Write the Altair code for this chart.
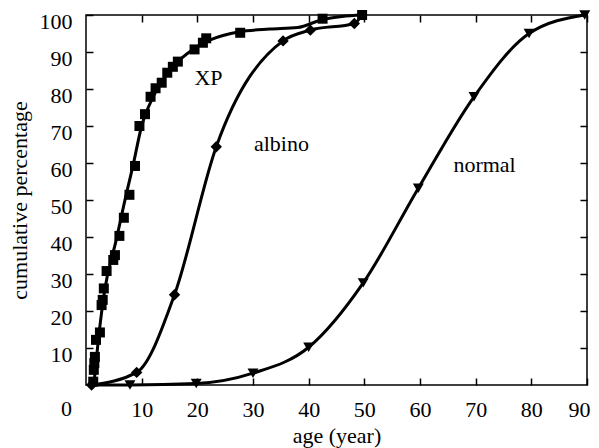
import altair as alt
import pandas as pd

# XP markers
xp_x = [1.3, 1.4, 1.5, 1.6, 1.8, 2.5, 2.8, 3.0, 3.2, 3.7, 4.9, 5.2, 6.0, 6.8, 7.8, 8.8, 9.6, 10.6,
        11.6, 12.5, 13.6, 14.6, 15.6, 16.5, 19.5, 21.0, 21.6, 27.7, 42.5, 49.6]
xp_y = [0.9, 4.1, 5.9, 7.6, 12.2, 14.2, 21.6, 23.0, 26.1, 30.8, 33.8, 35.1, 40.3, 45.2, 51.4, 59.2, 70.0, 73.2,
        77.9, 80.2, 81.7, 84.4, 86.0, 87.4, 90.7, 92.5, 93.7, 95.2, 99.0, 100.0]
# XP fitted curve
xp_curve_x = [1.4, 2.2, 3.4, 5.4, 7.3, 8.4, 10.0, 12.1, 15.6, 19.2, 22.2, 27.6, 33.0, 38.0, 42.5, 46.0, 49.6]
xp_curve_y = [0.0, 12.0, 26.0, 39.0, 52.0, 59.0, 70.0, 78.0, 86.0, 90.7, 93.2, 95.5, 96.2, 96.6, 98.8, 99.6, 100.0]

# albino
albino_x = [1.0, 9.1, 15.9, 23.4, 35.4, 40.3, 48.2]
albino_y = [0.0, 3.4, 24.4, 64.4, 93.0, 95.9, 97.7]
albino_curve_x = [1.0, 9.1, 15.9, 23.4, 35.4, 40.3, 48.2, 49.6]
albino_curve_y = [0.0, 3.4, 24.4, 64.4, 93.0, 95.9, 97.7, 100.0]

# normal
normal_x = [7.9, 19.8, 30.0, 40.0, 49.8, 59.7, 69.7, 79.6, 89.6]
normal_y = [0.0, 0.4, 3.2, 10.2, 27.6, 53.2, 77.9, 95.0, 100.0]
normal_curve_x = [1.4, 7.9, 19.8, 30.0, 40.0, 49.8, 59.7, 69.7, 79.6, 89.6]
normal_curve_y = [0.0, 0.0, 0.4, 3.2, 10.2, 27.6, 53.2, 77.9, 95.0, 100.0]

# annotations
label_text = ["XP", "albino", "normal"]
label_x = [22.0, 35.1, 71.6]
label_y = [81.1, 63.3, 57.6]

x_ticks = [10, 20, 30, 40, 50, 60, 70, 80, 90]
y_ticks = [10, 20, 30, 40, 50, 60, 70, 80, 90, 100]

FONT = "Liberation Serif"
FS = 22

xsc = alt.Scale(domain=[0, 90], nice=False, zero=False)
ysc = alt.Scale(domain=[0, 100], nice=False, zero=False)

xp_pts = pd.DataFrame({"x": xp_x, "y": xp_y})
xp_crv = pd.DataFrame({"x": xp_curve_x, "y": xp_curve_y})
al_pts = pd.DataFrame({"x": albino_x, "y": albino_y})
al_crv = pd.DataFrame({"x": albino_curve_x, "y": albino_curve_y})
no_pts = pd.DataFrame({"x": normal_x, "y": normal_y})
no_crv = pd.DataFrame({"x": normal_curve_x, "y": normal_curve_y})
labels = pd.DataFrame({"x": label_x, "y": label_y, "t": label_text})
zero = pd.DataFrame({"x": [0], "y": [0], "t": ["0"]})

common = dict(domain=False, grid=False, ticks=True, tickSize=7, tickWidth=1.5, tickColor="black",
              offset=-7, labelFont=FONT, labelFontSize=FS, labelColor="black",
              titleFont=FONT, titleFontSize=FS, titleFontWeight="normal", titleColor="black")

x_bottom = alt.Axis(orient="bottom", values=x_ticks, labelPadding=31, labelBaseline="alphabetic",
                    labelFlush=True, labelFlushOffset=3, labelOverlap=False,
                    title="age (year)", titleY=64, titleBaseline="alphabetic", **common)
y_left = alt.Axis(orient="left", values=y_ticks, labelPadding=14, labelBaseline="alphabetic",
                  labelOffset=13, labelOverlap=False, labelFlush=False,
                  title="cumulative percentage", titleX=-67, titleY=185, titleAngle=-90,
                  titleAlign="center", titleBaseline="alphabetic", **common)
x_top = alt.Axis(orient="top", values=x_ticks, labels=False, title=None, **common)
y_right = alt.Axis(orient="right", values=y_ticks, labels=False, title=None, **common)

line_kw = dict(color="black", strokeWidth=3, interpolate="monotone")

l_xp = alt.Chart(xp_crv).mark_line(**line_kw).encode(
    x=alt.X("x:Q", scale=xsc, axis=x_bottom), y=alt.Y("y:Q", scale=ysc, axis=y_left))
l_no = alt.Chart(no_crv).mark_line(**line_kw).encode(
    x=alt.X("x:Q", scale=xsc, axis=x_top), y=alt.Y("y:Q", scale=ysc, axis=y_right))
l_al = alt.Chart(al_crv).mark_line(**line_kw).encode(
    x=alt.X("x:Q", scale=xsc, axis=None), y=alt.Y("y:Q", scale=ysc, axis=None))

p_xp = alt.Chart(xp_pts).mark_point(shape="square", filled=True, size=100, color="black", opacity=1).encode(
    x=alt.X("x:Q", scale=xsc, axis=None), y=alt.Y("y:Q", scale=ysc, axis=None))
p_al = alt.Chart(al_pts).mark_point(shape="diamond", filled=True, size=130, color="black", opacity=1).encode(
    x=alt.X("x:Q", scale=xsc, axis=None), y=alt.Y("y:Q", scale=ysc, axis=None))
p_no = alt.Chart(no_pts).mark_point(shape="triangle-down", filled=True, size=120, color="black", opacity=1).encode(
    x=alt.X("x:Q", scale=xsc, axis=None), y=alt.Y("y:Q", scale=ysc, axis=None))

t_lab = alt.Chart(labels).mark_text(font=FONT, fontSize=FS, color="black", align="center",
                                    baseline="alphabetic").encode(
    x=alt.X("x:Q", scale=xsc, axis=None), y=alt.Y("y:Q", scale=ysc, axis=None), text="t:N")
t_zero = alt.Chart(zero).mark_text(font=FONT, fontSize=FS, color="black", align="right",
                                   baseline="alphabetic", dx=-14, dy=31).encode(
    x=alt.X("x:Q", scale=xsc, axis=None), y=alt.Y("y:Q", scale=ysc, axis=None), text="t:N")

chart = alt.layer(l_xp, l_no, l_al, p_xp, p_al, p_no, t_lab, t_zero).resolve_axis(
    x="independent", y="independent"
).properties(
    width=501, height=370,
    autosize=alt.AutoSizeParams(type="none"),
    padding={"left": 78, "top": 7, "right": 4, "bottom": 63},
    background="white",
).configure_view(stroke="black", strokeWidth=1.5)

chart.save("out.html", embed_options={"renderer": "svg", "actions": False})
